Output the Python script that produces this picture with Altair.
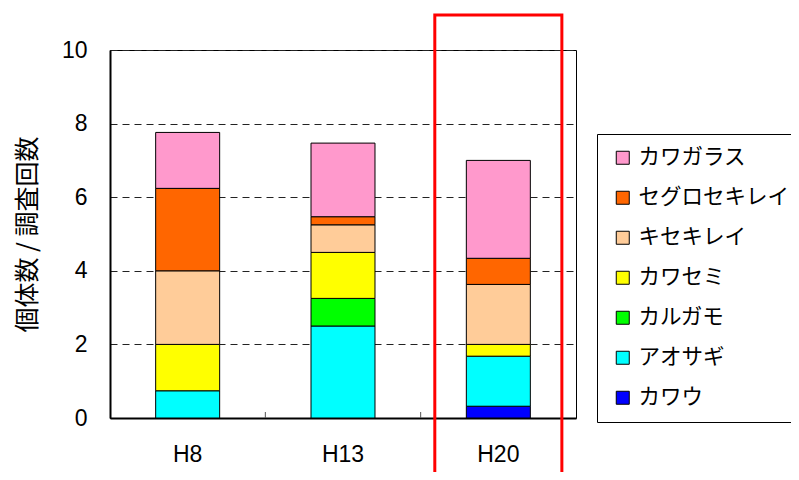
import altair as alt
import pandas as pd

# --- data ---
categories = ["H8", "H13", "H20"]
# stacking order, bottom -> top
species = ["カワウ", "アオサギ", "カルガモ", "カワセミ", "キセキレイ", "セグロセキレイ", "カワガラス"]
h8 = [0.0, 0.74, 0.0, 1.26, 2.0, 2.24, 1.52]
h13 = [0.0, 2.5, 0.75, 1.25, 0.75, 0.22, 2.0]
h20 = [0.32, 1.36, 0.0, 0.32, 1.63, 0.71, 2.66]
series = {"H8": h8, "H13": h13, "H20": h20}

legend_order = list(reversed(species))
colors = ["#FF99CC", "#FF6600", "#FFCC99", "#FFFF00", "#00FF00", "#00FFFF", "#0000FF"]

highlight_cat = ["H20"]
highlight_top = [10.95]
highlight_bottom = [-2.0]

rows = []
for cat in categories:
    for i, (sp, v) in enumerate(zip(species, series[cat])):
        if v > 0:
            rows.append({"cat": cat, "species": sp, "value": v, "idx": i})
df = pd.DataFrame(rows)

x_enc = alt.X("cat:N", sort=categories, scale=alt.Scale(domain=categories, paddingInner=0, paddingOuter=0),
              axis=alt.Axis(title=None, labelAngle=0))
y_scale = alt.Scale(domain=[0, 10], nice=False)

bars = alt.Chart(df).mark_bar(
    width=alt.RelativeBandSize(0.412), stroke="black", strokeWidth=1
).encode(
    x=x_enc,
    y=alt.Y("sum(value):Q", scale=y_scale, stack="zero",
            axis=alt.Axis(title="個体数 / 調査回数", values=[0, 2, 4, 6, 8, 10])),
    color=alt.Color("species:N", scale=alt.Scale(domain=legend_order, range=colors),
                    legend=alt.Legend(title=None)),
    order=alt.Order("idx:Q", sort="ascending"),
)

hl_df = pd.DataFrame({"cat": highlight_cat, "top": highlight_top, "bottom": highlight_bottom})
highlight = alt.Chart(hl_df).mark_bar(
    width=alt.RelativeBandSize(0.818), filled=False, stroke="#FF0000", strokeWidth=3, clip=False
).encode(
    x=alt.X("cat:N", sort=categories),
    y=alt.Y("top:Q", scale=y_scale),
    y2="bottom:Q",
)

tick_df = pd.DataFrame({"cat": categories[1:]})
ticks = alt.Chart(tick_df).mark_rule(color="#555555", strokeWidth=1).encode(
    x=alt.X("cat:N", sort=categories, bandPosition=0),
    y=alt.value(368),
    y2=alt.value(362),
)

chart = alt.layer(bars, ticks, highlight).properties(
    width=466, height=368,
    autosize=alt.AutoSizeParams(type="none"),
    padding={"left": 102, "top": 42, "right": 215, "bottom": 54},
).configure_view(
    stroke="black", strokeWidth=1
).configure_axis(
    labelFont="Liberation Sans", labelFontSize=23, labelColor="black",
    domainColor="black", domainWidth=2, ticks=False,
    titleFont="Noto Sans CJK JP", titleFontSize=25, titleFontWeight="normal", titleColor="black",
).configure_axisY(
    grid=True, gridDash=[7, 5], gridColor="#222222", gridWidth=1,
    labelPadding=23, titlePadding=21,
).configure_axisX(
    grid=False, labelPadding=25,
).configure_legend(
    orient="none", legendX=487, legendY=84,
    strokeColor="black", fillColor="white", padding=13,
    symbolType="square", symbolSize=169, symbolStrokeColor="black", symbolStrokeWidth=1,
    symbolOpacity=1, symbolOffset=2,
    labelFont="Noto Sans CJK JP", labelFontSize=21.5, labelColor="black",
    rowPadding=17, labelOffset=5,
)

chart.save("out.html", embed_options={"renderer": "svg", "actions": False})
